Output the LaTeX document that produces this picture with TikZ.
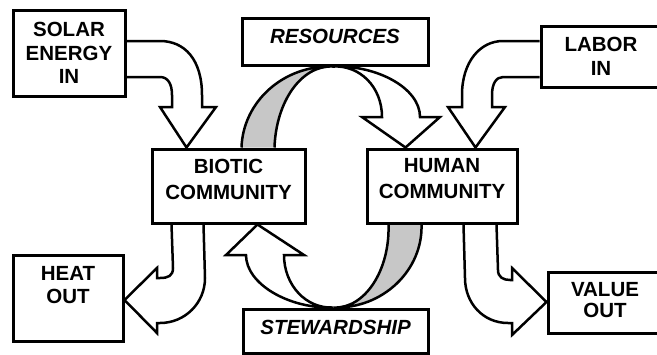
\documentclass[tikz,border=0pt]{standalone}
\usepackage{fontspec}
\setmainfont{Liberation Sans}
\usetikzlibrary{calc,backgrounds}

\begin{document}
\begin{tikzpicture}[x=1pt, y=-1pt, >=latex]
\def \bw {3pt}
\def \aw {2.5pt}
  \tikzstyle{block} = [draw, color=black, fill=white, rectangle, line width=\bw, inner sep=0]
  \tikzstyle{txt} = [align=center, text=black, font=\fontsize{20.5}{23.5}\selectfont\bfseries]
  \tikzstyle{fat} = [draw, black, fill=white, line width=\aw]
  \tikzstyle{ribbon} = [draw, black, fill=black!22, line width=\aw]

\useasboundingbox (0,0) rectangle (657,354);
\clip (0,0) rectangle (657,354);

%%%%%%%%%%%%%%%%%%%%%%%%%%%%%%%%%%%%%%%%%%%%%%%%%%%%%%%%%%%%%%%%%%%%%%%%%%%%%%%

\coordinate (solar_pose) at (69, 53);
\coordinate (res_pose) at (335, 41.5);
\coordinate (labor_pose) at (601, 56.5);
\coordinate (biotic_pose) at (228.5, 186);
\coordinate (human_pose) at (442, 186);
\coordinate (heat_pose) at (68, 298);
\coordinate (stew_pose) at (335.5, 331);
\coordinate (value_pose) at (605, 302.5);

%%%%%%%%%%%%%%%%%%%%%%%%%%%%%%%%%%%%%%%%%%%%%%%%%%%%%%%%%%%%%%%%%%%%%%%%%%%%%%%

\node[block, minimum width=112pt, minimum height=86pt,
      label={[txt]center:SOLAR\\ENERGY\\IN}] (solar) at (solar_pose) {};
\node[block, minimum width=186pt, minimum height=47pt,
      label={[txt, yshift=5pt]center:\itshape RESOURCES}] (resources) at (res_pose) {};
\node[block, minimum width=120pt, minimum height=61pt,
      label={[txt]center:LABOR\\IN}] (labor) at (labor_pose) {};
\node[block, minimum width=153pt, minimum height=74pt,
      label={[txt, font=\fontsize{20.5}{26}\selectfont\bfseries, yshift=7pt]center:BIOTIC\\COMMUNITY}] (biotic) at (biotic_pose) {};
\node[block, minimum width=150pt, minimum height=74pt,
      label={[txt, font=\fontsize{20.5}{26}\selectfont\bfseries, yshift=7pt]center:HUMAN\\COMMUNITY}] (human) at (human_pose) {};
\node[block, minimum width=110pt, minimum height=86pt,
      label={[txt, yshift=13pt]center:HEAT\\OUT}] (heat) at (heat_pose) {};
\node[block, minimum width=185pt, minimum height=44pt,
      label={[txt, yshift=4pt]center:\itshape STEWARDSHIP}] (stewardship) at (stew_pose) {};
\node[block, minimum width=114pt, minimum height=61pt,
      label={[txt, font=\fontsize{20.5}{21}\selectfont\bfseries, yshift=2pt]center:VALUE\\OUT}] (value) at (value_pose) {};

%%%%%%%%%%%%%%%%%%%%%%%%%%%%%%%%%%%%%%%%%%%%%%%%%%%%%%%%%%%%%%%%%%%%%%%%%%%%%%%

\begin{scope}[on background layer]
% inputs
\draw[fat] ($(solar.east)+(0,-12)$) -- (160,41) .. controls (185,41) and (202,60) .. (202,95)
  -- (202,107) -- (216,107) -- ($(biotic.north west)+(36,0)$) -- (160,107) -- (172,107)
  -- (172,95) .. controls (172,84) and (168,77) .. (160,77) -- ($(solar.east)+(0,24)$);
\draw[fat] ($(labor.west)+(0,-15.5)$) -- (503,41) .. controls (480,41) and (462,62) .. (462,95)
  -- (462,107) -- (448,107) -- ($(human.north west)+(110,0)$) -- (505,107) -- (492,107)
  -- (492,95) .. controls (492,84) and (496,77) .. (503,77) -- ($(labor.west)+(0,20.5)$);

% outputs
\draw[fat] ($(biotic.south west)+(21,0)$) -- (173,268) .. controls (173,276) and (168,278) .. (160,278)
  -- (157,278) -- (157,268) -- ($(heat.east)+(0,2)$) -- (157,333) -- (157,323) -- (160,323)
  .. controls (185,323) and (205,303) .. (205,278) -- ($(biotic.south west)+(53,0)$);
\draw[fat] ($(human.south west)+(131,0)$) -- (498,270) .. controls (498,277) and (503,280) .. (510,280)
  -- (512,280) -- (512,268) -- ($(value.west)+(0,-0.5)$) -- (512,335) -- (512,323) -- (508,323)
  .. controls (483,323) and (465,303) .. (465,278) -- ($(human.south west)+(98,0)$);

% resources loop
\draw[ribbon] ($(biotic.north west)+(91,0)$) .. controls (243,102) and (283,65) .. ($(resources.south)+(-2,0)$)
  .. controls (301,65) and (276,102) .. ($(biotic.north west)+(124,0)$);
\draw[fat] ($(resources.south)+(-2,0)$) .. controls (377,65) and (420,88) .. (420,117) -- (440,117)
  -- ($(human.north west)+(40,0)$) -- (362,117) -- (382,117)
  .. controls (382,87) and (360,65) .. ($(resources.south)+(-2,0)$);

% stewardship loop
\draw[ribbon] ($(human.south west)+(56,0)$) .. controls (423,270) and (383,309) .. ($(stewardship.north)+(-2,0)$)
  .. controls (365,309) and (390,270) .. ($(human.south west)+(23,0)$);
\draw[fat] ($(stewardship.north)+(-2,0)$) .. controls (289,309) and (246,284) .. (246,255) -- (226,255)
  -- ($(biotic.south west)+(107,0)$) -- (304,255) -- (284,255)
  .. controls (284,285) and (306,309) .. ($(stewardship.north)+(-2,0)$);
\end{scope}

\end{tikzpicture}
\end{document}
